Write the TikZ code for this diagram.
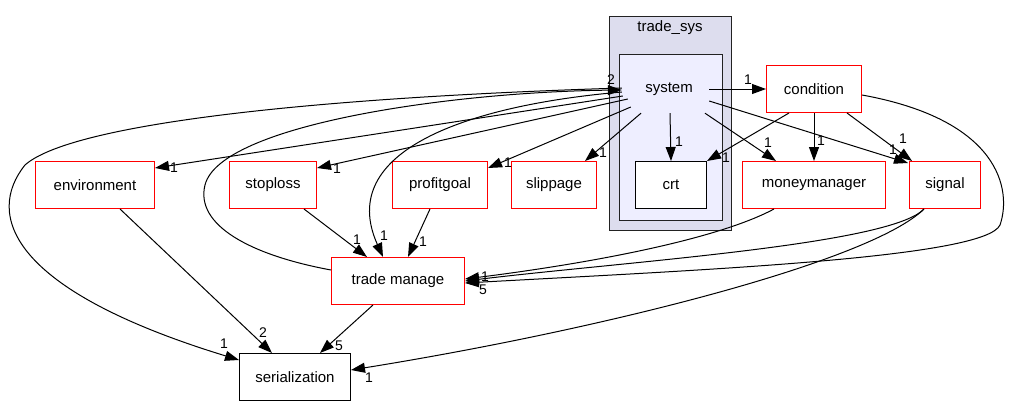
\documentclass[tikz,border=0pt]{standalone}
\usepackage{fontspec}
\setmainfont{Liberation Sans}
\usetikzlibrary{arrows.meta,calc}
\definecolor{outerfill}{HTML}{DDDDEE}
\definecolor{innerfill}{HTML}{EEEEFF}
\definecolor{clusterline}{HTML}{222222}
\definecolor{boxred}{HTML}{FF0000}
\begin{document}
\begin{tikzpicture}[x=1pt,y=-1pt,
  font=\fontsize{15}{18}\selectfont,
  redbox/.style={draw=boxred,fill=white,minimum height=47pt,inner sep=0pt,line width=1pt},
  blackbox/.style={draw=black,fill=white,minimum height=47pt,inner sep=0pt,line width=1pt},
  edge/.style={-{Triangle[length=14pt,width=10pt]},line width=1pt},
  lbl/.style={font=\fontsize{14}{14}\selectfont,inner sep=0pt}]
\useasboundingbox (0,0) rectangle (1014,407);
% clusters
\draw[clusterline,fill=outerfill,line width=1.1pt] (609.5,16.5) rectangle (731.5,230.5);
\node (tsys) at (670,28) {trade\_sys};
\draw[clusterline,fill=innerfill,line width=1.1pt] (619.5,54.5) rectangle (722.5,220.5);
\node[minimum width=96pt,minimum height=48pt,inner sep=0pt] (system) at (669,89) {system};
% nodes
\node[blackbox,minimum width=71pt] (crt) at (671,185) {crt};
\node[redbox,minimum width=95pt] (condition) at (814,89) {condition};
\node[redbox,minimum width=143pt] (mm) at (814,185) {moneymanager};
\node[redbox,minimum width=71pt] (signal) at (945,185) {signal};
\node[redbox,minimum width=119pt] (env) at (95,185) {environment};
\node[redbox,minimum width=87pt] (stop) at (273,185) {stoploss};
\node[redbox,minimum width=95pt] (profit) at (440,185) {profitgoal};
\node[redbox,minimum width=85pt] (slip) at (554,185) {slippage};
\node[redbox,minimum width=133pt] (tm) at (398,281) {trade manage};
\node[blackbox,minimum width=111pt] (ser) at (295,377) {serialization};
% straight edges
\draw[edge] ($(system.east)+(-8,0)$) -- (condition.west);
\node[lbl] (l1) at (748,80) {1};
\draw[edge] ($(system.south)+(1,0)$) -- (crt.north);
\node[lbl] (l2) at (679,142) {1};
\draw[edge] ($(condition.south west)+(23,0)$) -- (crt.north east);
\node[lbl] (l3) at (726,158) {1};
\draw[edge] ($(system.south)+(36,0)$) -- ($(mm.north west)+(34,0)$);
\node[lbl] (l4) at (768,143) {1};
\draw[edge] (condition.south) -- (mm.north);
\node[lbl] (l5) at (821,141) {1};
\draw[edge] ($(condition.south east)+(-15,0)$) -- ($(signal.north west)+(3,0)$);
\node[lbl] (l6) at (903,139) {1};
\draw[edge] ($(system.east)+(-8,12)$) -- ($(signal.north west)+(-1,2)$);
\node[lbl] (l7) at (893,150) {1};
\draw[edge] ($(system.south)+(-28,0)$) -- ($(slip.north east)+(-12,0)$);
\node[lbl] (l8) at (603,153) {1};
\draw[edge] ($(system.west)+(10,18)$) -- ($(profit.north east)+(0,7)$);
\node[lbl] (l9) at (508,163) {1};
\draw[edge] ($(system.west)+(7,10)$) -- ($(stop.north east)+(0,7)$);
\node[lbl] (l10) at (337,169) {1};
\draw[edge] ($(system.west)+(2,7)$) -- ($(env.north east)+(0,7)$);
\node[lbl] (l11) at (174,168) {1};
\draw[edge] ($(env.south)+(25,0)$) -- ($(ser.north west)+(33,0)$);
\node[lbl] (l15) at (263,333) {2};
\draw[edge] ($(stop.south)+(31,0)$) -- ($(tm.north west)+(36,0)$);
\node[lbl] (l16) at (357,240) {1};
\draw[edge] ($(profit.south)+(-10,0)$) -- ($(tm.north west)+(77,0)$);
\node[lbl] (l17) at (423,242) {1};
\draw[edge] ($(tm.south west)+(42,0)$) -- ($(ser.north)+(25,0)$);
\node[lbl] (l18) at (339,346) {5};
% curved edges
\draw[edge] ($(tm.north west)+(0,13)$) .. controls (250,255) and (195,225) .. (205,185)
   .. controls (220,125) and (450,92) .. ($(system.west)+(1,1)$);
\node[lbl] (l12) at (611,80) {2};
\draw[edge] ($(system.west)+(1,3)$) .. controls (470,105) and (335,150) .. ($(tm.north west)+(52,0)$);
\node[lbl] (l13) at (384,236) {1};
\draw[edge] ($(system.west)+(1,-1)$) .. controls (300,98) and (70,125) .. (25,165)
   .. controls (-15,215) and (10,290) .. ($(ser.north west)+(0,7)$);
\node[lbl] (l14) at (224,344) {1};
\draw[edge] ($(mm.south west)+(32,0)$) .. controls (720,238) and (600,262) .. ($(tm.east)+(0,-2)$);
\draw[edge] ($(signal.south west)+(15,0)$) .. controls (890,245) and (620,262) .. ($(tm.east)+(0,0)$);
\draw[edge] ($(condition.east)+(0,6)$) .. controls (1000,120) and (1012,190) .. (1000,225)
   .. controls (985,258) and (700,270) .. ($(tm.east)+(0,2)$);
\node[lbl] (l19) at (485,277) {1};
\node[lbl] (l20) at (483,290) {5};
\draw[edge] ($(signal.south west)+(15,0)$) .. controls (870,262) and (600,330) .. ($(ser.east)+(0,-7)$);
\node[lbl] (l22) at (369,378) {1};
\end{tikzpicture}
\end{document}
